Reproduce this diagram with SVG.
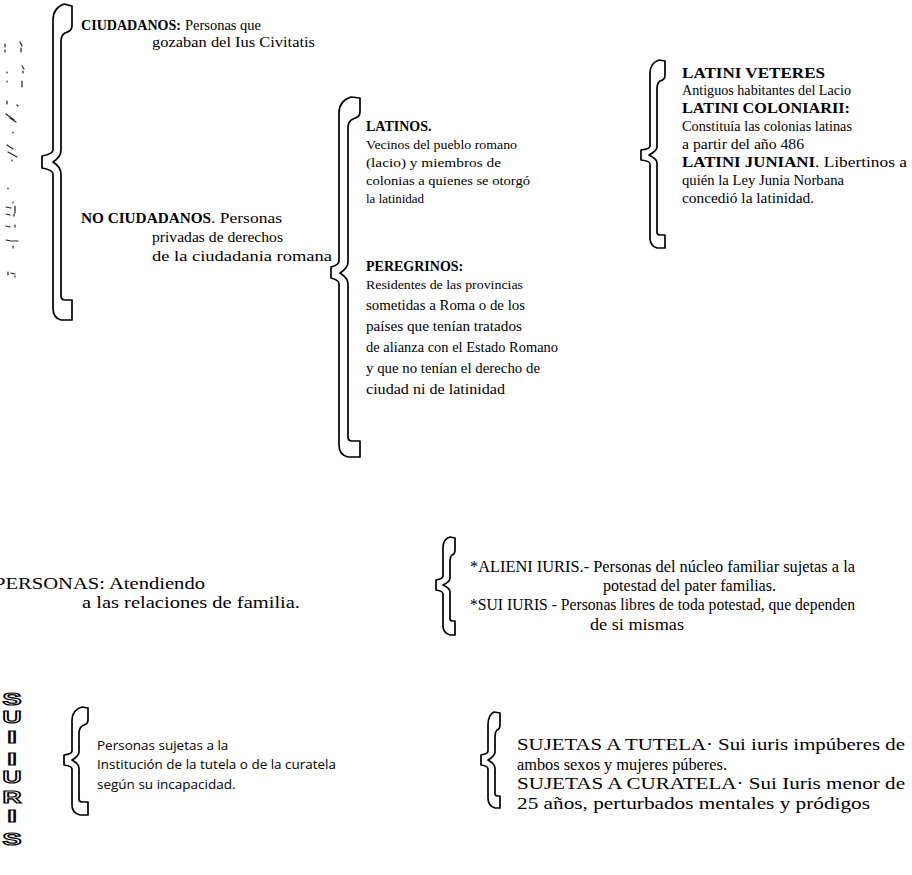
<svg xmlns="http://www.w3.org/2000/svg" width="912" height="875" viewBox="0 0 912 875">
<style>
.t{font-family:"Liberation Serif","Times New Roman",serif;fill:#000;font-size:14px}
.s13{font-size:13px}
.s15{font-size:15px}
.s16{font-size:16px}
.s17{font-size:17px}
.b{font-weight:bold}
.sans{font-family:"Open Sans","Noto Sans",sans-serif;font-size:13.5px;fill:#000}
.brace{fill:#fff;stroke:#000;stroke-width:1.7;stroke-linejoin:round}
.vl{font-family:"Liberation Sans",Arial,sans-serif;font-weight:bold;font-size:17px;fill:#fff;stroke:#000;stroke-width:1.2;text-anchor:middle}
.spk{fill:none;stroke:#222;stroke-width:1.2;stroke-linecap:round}
</style>
<rect width="912" height="875" fill="#fff"/>
<g id="scan-marks">
<path class="spk" d="M5,44 v3 M5,50 v2 M20,42 l2,4 M21,48 v4 M7,72 v1 M22,66 l2,3 M23,71 v2 M7,81 v1 M22,81 v6 M7,101 v3 M17,105 l1,1 M6,114 l8,6 M10,118 l6,4 M13,132 v1 M7,145 l6,4 M8,152 l9,5 M12,160 v1 M8,188 v1 M13,202 v1 M6,207 l5,1 M15,206 v7 M6,214 l4,1 M14,214 v2 M6,226 l4,1 M15,225 v2 M6,240 l5,1 M12,241 l6,0 M13,246 v2 M8,272 v3 M11,273 l4,1 M15,276 v1"/>
</g>
<g id="connectors">
<path class="brace" d="M64,4 L72,6 L72,26 Q72,31 65,33 Q61,35 61,42 L61,150 Q61,157 53,162 Q61,167 61,174 L61,296 Q61,300 65,300 L72,300 L72,320 L61,320 Q53,318 53,308 L53,174 Q53,170 42,168 L42,156 Q53,154 53,150 L53,20 Q53,8 64,4 Z"/>
<path class="brace" d="M351,97 L360,98 L360,112 Q360,117 353,119 Q348,121 348,128 L348,262 Q348,268 340,273 Q348,278 348,284 L348,437 Q348,441 352,441 L360,441 L360,457 L348,457 Q339,455 339,445 L339,284 Q339,280 331,278 L331,267 Q339,265 339,261 L339,113 Q339,101 351,97 Z"/>
<path class="brace" d="M659,60 L665,61 L665,75 Q665,80 660,81 Q657,83 657,89 L657,147 Q657,151 649,155 Q657,159 657,163 L657,232 Q657,235 660,235 L665,235 L665,248 L657,248 Q650,246 650,238 L650,164 Q650,161 641,160 L641,150 Q650,149 650,146 L650,73 Q650,63 659,60 Z"/>
<path class="brace" d="M450,537 L455,538 L455,550 Q455,554 452,555 Q450,557 450,562 L450,578 Q450,582 443,585 Q450,588 450,592 L450,618 Q450,621 452,621 L455,621 L455,635 L450,635 Q443,633 443,626 L443,594 Q443,591 436,590 L436,580 Q443,579 443,576 L443,548 Q443,539 450,537 Z"/>
<path class="brace" d="M82,707 L88,708 L88,720 Q88,724 84,725 Q79,727 79,733 L79,752 Q79,756 72,760 Q79,764 79,768 L79,799 Q79,802 82,802 L88,802 L88,815 L80,815 Q72,813 72,805 L72,769 Q72,766 64,765 L64,755 Q72,754 72,751 L72,720 Q72,710 82,707 Z"/>
<path class="brace" d="M494,712 L500,713 L500,725 Q500,729 497,730 Q495,732 495,738 L495,752 Q495,756 488,760 Q495,764 495,768 L495,793 Q495,796 497,796 L500,796 L500,808 L495,808 Q488,806 488,798 L488,769 Q488,766 481,765 L481,755 Q488,754 488,751 L488,725 Q488,715 494,712 Z"/>
</g>
<g id="ciudadanos">
<text class="t s15 b" x="81" y="30" textLength="100" lengthAdjust="spacingAndGlyphs">CIUDADANOS:</text>
<text class="t s15" x="185" y="30" textLength="76" lengthAdjust="spacingAndGlyphs">Personas que</text>
<text class="t s15" x="152" y="47" textLength="163" lengthAdjust="spacingAndGlyphs">gozaban del Ius Civitatis</text>
</g>
<g id="no-ciudadanos">
<text class="t s15 b" x="81" y="223" textLength="130" lengthAdjust="spacingAndGlyphs">NO CIUDADANOS</text>
<text class="t s15" x="211" y="223" textLength="71" lengthAdjust="spacingAndGlyphs">. Personas</text>
<text class="t s15" x="152" y="242" textLength="131" lengthAdjust="spacingAndGlyphs">privadas de derechos</text>
<text class="t s15" x="152" y="261" textLength="180" lengthAdjust="spacingAndGlyphs">de la ciudadania romana</text>
</g>
<g id="latinos">
<text class="t b" x="366" y="131">LATINOS.</text>
<text class="t s13" x="366" y="149" textLength="151" lengthAdjust="spacingAndGlyphs">Vecinos del pueblo romano</text>
<text class="t s13" x="366" y="167" textLength="135" lengthAdjust="spacingAndGlyphs">(lacio) y miembros de</text>
<text class="t s13" x="366" y="185" textLength="164" lengthAdjust="spacingAndGlyphs">colonias a quienes se otorgó</text>
<text class="t s13" x="366" y="203">la latinidad</text>
</g>
<g id="peregrinos">
<text class="t b" x="366" y="271">PEREGRINOS:</text>
<text class="t s13" x="366" y="289" textLength="157" lengthAdjust="spacingAndGlyphs">Residentes de las provincias</text>
<text class="t s15" x="366" y="310" textLength="159" lengthAdjust="spacingAndGlyphs">sometidas a Roma o de los</text>
<text class="t s15" x="366" y="331" textLength="156" lengthAdjust="spacingAndGlyphs">países que tenían tratados</text>
<text class="t s15" x="366" y="352" textLength="192" lengthAdjust="spacingAndGlyphs">de alianza con el Estado Romano</text>
<text class="t s15" x="366" y="373" textLength="174" lengthAdjust="spacingAndGlyphs">y que no tenían el derecho de</text>
<text class="t s15" x="366" y="394" textLength="139" lengthAdjust="spacingAndGlyphs">ciudad ni de latinidad</text>
</g>
<g id="latini">
<text class="t b" x="682" y="78" textLength="143" lengthAdjust="spacingAndGlyphs">LATINI VETERES</text>
<text class="t" x="682" y="95" textLength="169" lengthAdjust="spacingAndGlyphs">Antiguos habitantes del Lacio</text>
<text class="t b" x="682" y="113" textLength="168" lengthAdjust="spacingAndGlyphs">LATINI COLONIARII:</text>
<text class="t" x="682" y="131" textLength="170" lengthAdjust="spacingAndGlyphs">Constituía las colonias latinas</text>
<text class="t" x="682" y="149" textLength="122" lengthAdjust="spacingAndGlyphs">a partir del año 486</text>
<text class="t b" x="682" y="167" textLength="133" lengthAdjust="spacingAndGlyphs">LATINI JUNIANI</text>
<text class="t" x="815" y="167" textLength="92" lengthAdjust="spacingAndGlyphs">. Libertinos a</text>
<text class="t" x="682" y="185" textLength="162" lengthAdjust="spacingAndGlyphs">quién la Ley Junia Norbana</text>
<text class="t" x="682" y="203" textLength="132" lengthAdjust="spacingAndGlyphs">concedió la latinidad.</text>
</g>
<g id="personas-familia">
<text class="t s17" x="-6" y="589" textLength="211" lengthAdjust="spacingAndGlyphs">PERSONAS: Atendiendo</text>
<text class="t s17" x="82" y="608" textLength="218" lengthAdjust="spacingAndGlyphs">a las relaciones de familia.</text>
</g>
<g id="alieni-sui">
<text class="t s16" x="470" y="572" textLength="385" lengthAdjust="spacingAndGlyphs">*ALIENI IURIS.- Personas del núcleo familiar sujetas a la</text>
<text class="t s16" x="603" y="591" textLength="173" lengthAdjust="spacingAndGlyphs">potestad del pater familias.</text>
<text class="t s16" x="470" y="610" textLength="385" lengthAdjust="spacingAndGlyphs">*SUI IURIS - Personas libres de toda potestad, que dependen</text>
<text class="t s16" x="590" y="630" textLength="94" lengthAdjust="spacingAndGlyphs">de si mismas</text>
</g>
<g id="sui-iuris-label">
<text class="vl" x="12" y="705" textLength="19" lengthAdjust="spacingAndGlyphs">S</text>
<text class="vl" x="12" y="723" textLength="19" lengthAdjust="spacingAndGlyphs">U</text>
<text class="vl" x="12" y="743" textLength="10" lengthAdjust="spacingAndGlyphs">I</text>
<text class="vl" x="12" y="765" textLength="10" lengthAdjust="spacingAndGlyphs">I</text>
<text class="vl" x="12" y="783" textLength="19" lengthAdjust="spacingAndGlyphs">U</text>
<text class="vl" x="12" y="803" textLength="19" lengthAdjust="spacingAndGlyphs">R</text>
<text class="vl" x="12" y="822" textLength="10" lengthAdjust="spacingAndGlyphs">I</text>
<text class="vl" x="12" y="845" textLength="19" lengthAdjust="spacingAndGlyphs">S</text>
</g>
<g id="sujetas">
<text class="sans" x="97" y="750">Personas sujetas a la</text>
<text class="sans" x="97" y="769" textLength="239" lengthAdjust="spacingAndGlyphs">Institución de la tutela o de la curatela</text>
<text class="sans" x="97" y="789">según su incapacidad.</text>
</g>
<g id="tutela-curatela">
<text class="t s17" x="517" y="750" textLength="388" lengthAdjust="spacingAndGlyphs">SUJETAS A TUTELA· Sui iuris impúberes de</text>
<text class="t s17" x="517" y="770" textLength="210" lengthAdjust="spacingAndGlyphs">ambos sexos y mujeres púberes.</text>
<text class="t s17" x="517" y="789" textLength="388" lengthAdjust="spacingAndGlyphs">SUJETAS A CURATELA· Sui Iuris menor de</text>
<text class="t s17" x="517" y="809" textLength="353" lengthAdjust="spacingAndGlyphs">25 años, perturbados mentales y pródigos</text>
</g>
</svg>
